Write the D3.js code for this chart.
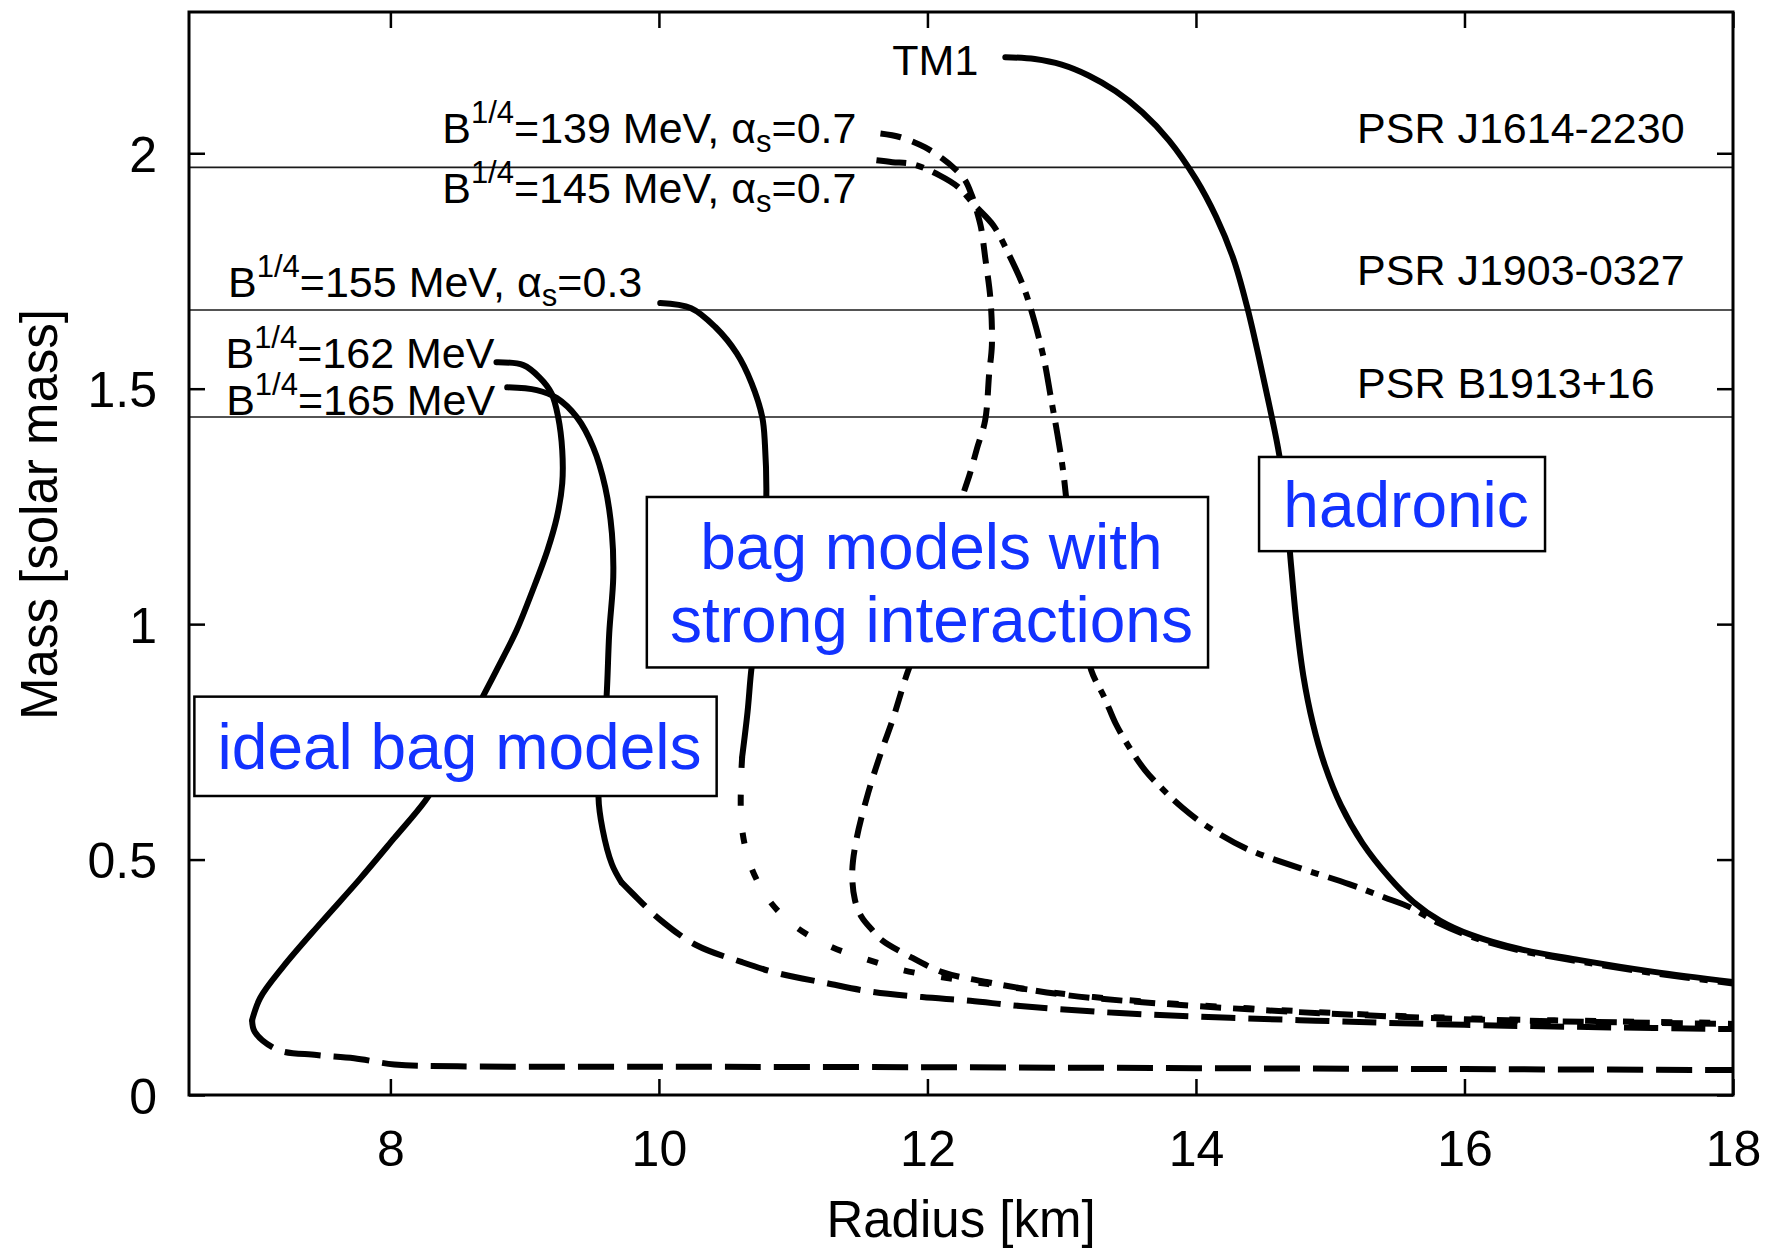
<!DOCTYPE html>
<html>
<head>
<meta charset="utf-8">
<script src="https://cdn.jsdelivr.net/npm/d3@7"></script>
<style>
  html, body { margin: 0; padding: 0; background: #ffffff; }
  svg { display: block; }
  text { font-family: "Liberation Sans", Arial, Helvetica, sans-serif; }
</style>
</head>
<body>
<svg id="chart" width="1771" height="1252"></svg>
<script>
// ---------- data: mass–radius relations [radius km, mass solar] ----------
const xTicks = [8, 10, 12, 14, 16, 18];
const yTicks = [0, 0.5, 1, 1.5, 2];

// hadronic TM1
const tm1 = [[12.58,2.204],[12.80,2.200],[13.00,2.188],[13.20,2.165],[13.40,2.132],[13.60,2.087],
  [13.80,2.027],[14.00,1.945],[14.15,1.865],[14.28,1.775],[14.38,1.675],[14.47,1.565],[14.55,1.460],
  [14.62,1.360],[14.67,1.250],[14.71,1.120],[14.75,1.000],[14.80,0.890],[14.87,0.790],[14.96,0.700],
  [15.08,0.615],[15.24,0.535],[15.44,0.462],[15.62,0.410],[15.82,0.370],[16.05,0.340],[16.41,0.310],
  [16.85,0.287],[17.40,0.262],[18.0,0.240]];

// B^1/4 = 139 MeV, alpha_s = 0.7 (dashed)
const bag139 = [[11.65,2.042],[11.80,2.034],[11.98,2.013],[12.11,1.989],[12.20,1.968],[12.28,1.943],
  [12.33,1.911],[12.37,1.875],[12.40,1.841],[12.43,1.779],[12.47,1.688],[12.48,1.592],[12.46,1.533],
  [12.43,1.433],[12.37,1.374],[12.32,1.323],[12.26,1.270],[12.10,1.100],[11.95,0.970],[11.85,0.896],
  [11.74,0.796],[11.66,0.732],[11.56,0.643],[11.47,0.541],[11.44,0.473],[11.46,0.414],[11.51,0.378],
  [11.59,0.350],[11.66,0.329],[11.85,0.297],[12.11,0.261],[12.44,0.240],[12.69,0.227],[13.04,0.212],
  [13.60,0.197],[14.77,0.176],[16.0,0.161],[17.0,0.155],[18.0,0.151]];

// B^1/4 = 145 MeV, alpha_s = 0.7 (dash-dot)
const bag145 = [[11.62,1.985],[11.74,1.981],[11.89,1.977],[12.09,1.953],[12.23,1.928],[12.35,1.890],
  [12.49,1.847],[12.61,1.783],[12.72,1.713],[12.80,1.640],[12.87,1.560],[12.92,1.480],[12.97,1.400],
  [13.01,1.327],[13.04,1.250],[13.10,1.100],[13.16,0.990],[13.22,0.902],[13.32,0.843],[13.40,0.790],
  [13.50,0.740],[13.62,0.690],[13.75,0.650],[13.90,0.610],[14.07,0.573],[14.37,0.524],[14.73,0.486],
  [15.14,0.448],[15.40,0.420],[15.60,0.398],[15.80,0.366],[16.05,0.336],[16.41,0.307],[16.85,0.284],
  [17.40,0.259],[18.0,0.237]];

// B^1/4 = 155 MeV, alpha_s = 0.3 (solid branch, dotted branch)
const bag155Solid = [[10.01,1.682],[10.24,1.671],[10.42,1.631],[10.58,1.575],[10.69,1.512],[10.77,1.439],
  [10.79,1.380],[10.80,1.272],[10.77,1.100],[10.72,0.960],[10.69,0.907],[10.66,0.813],[10.62,0.718]];
const bag155Dotted = [[10.62,0.718],[10.61,0.652],[10.62,0.563],[10.69,0.482],[10.83,0.410],[11.03,0.355],
  [11.29,0.314],[11.56,0.287],[11.82,0.265],[12.11,0.250],[12.44,0.236],[13.04,0.214],[13.60,0.199],
  [14.77,0.178],[16.0,0.163],[17.0,0.157],[18.0,0.153]];

// ideal bag B^1/4 = 162 MeV (solid branch, dashed branch)
const bag162Solid = [[8.79,1.556],[8.99,1.550],[9.11,1.524],[9.20,1.490],[9.25,1.439],[9.28,1.369],
  [9.28,1.299],[9.24,1.227],[9.17,1.157],[9.06,1.072],[8.94,0.987],[8.79,0.902],[8.66,0.830],
  [8.47,0.718],[8.26,0.625],[8.03,0.546],[7.77,0.458],[7.48,0.365],[7.20,0.272],[7.03,0.206],[6.97,0.159]];
const bag162Dashed = [[6.97,0.159],[6.99,0.134],[7.16,0.096],[7.45,0.085],[7.73,0.078],[8.03,0.065],
  [8.5,0.061],[10.0,0.060],[12.0,0.059],[14.0,0.057],[16.0,0.055],[18.0,0.053]];

// ideal bag B^1/4 = 165 MeV (solid branch, dashed branch)
const bag165Solid = [[8.87,1.503],[9.09,1.497],[9.24,1.480],[9.39,1.439],[9.51,1.376],[9.60,1.291],
  [9.65,1.193],[9.66,1.100],[9.63,0.981],[9.61,0.845],[9.57,0.700],[9.55,0.633],[9.58,0.565],
  [9.65,0.490],[9.72,0.452]];
const bag165Dashed = [[9.72,0.452],[9.80,0.429],[10.01,0.372],[10.28,0.318],[10.62,0.282],[10.88,0.259],
  [11.24,0.238],[11.59,0.219],[11.96,0.208],[12.32,0.200],[12.69,0.189],[13.43,0.174],[14.77,0.159],
  [16.0,0.149],[17.0,0.144],[18.0,0.140]];

// measured pulsar masses
const psrNames = ["PSR J1614-2230", "PSR J1903-0327", "PSR B1913+16"];
const psrMasses = [1.97, 1.667, 1.4398];

// ---------- layout ----------
const svg = d3.select("#chart");
const W = 1771, H = 1252;
const margin = { left: 189, right: 38, top: 12, bottom: 157 };

const x = d3.scaleLinear().domain([6.5, 18]).range([margin.left, W - margin.right]);
const y = d3.scaleLinear().domain([0, 2.3]).range([H - margin.bottom, margin.top]);

svg.append("rect").attr("width", W).attr("height", H).attr("fill", "#fff");

svg.append("defs").append("clipPath").attr("id", "plotClip")
  .append("rect")
  .attr("x", x(6.5)).attr("y", y(2.3))
  .attr("width", x(18) - x(6.5)).attr("height", y(0) - y(2.3));

const plot = svg.append("g").attr("clip-path", "url(#plotClip)");

// pulsar reference lines
plot.selectAll("line.psr").data(psrMasses).join("line")
  .attr("class", "psr")
  .attr("x1", x(6.5)).attr("x2", x(18))
  .attr("y1", d => y(d)).attr("y2", d => y(d))
  .attr("stroke", "#1a1a1a").attr("stroke-width", 1.6);

const line = d3.line()
  .x(d => x(d[0])).y(d => y(d[1]))
  .curve(d3.curveCatmullRom.alpha(0.5));

const curves = [
  { data: bag165Dashed, dash: "34,13" },
  { data: bag162Dashed, dash: "36,13" },
  { data: bag155Dotted, dash: "11,27" },
  { data: bag139, dash: "21,12" },
  { data: bag145, dash: "30,10,8,10" },
  { data: tm1, dash: null },
  { data: bag155Solid, dash: null },
  { data: bag162Solid, dash: null },
  { data: bag165Solid, dash: null }
];

plot.selectAll("path.curve").data(curves).join("path")
  .attr("class", "curve")
  .attr("d", d => line(d.data))
  .attr("fill", "none")
  .attr("stroke", "#000")
  .attr("stroke-width", 6)
  .attr("stroke-linejoin", "round")
  .attr("stroke-linecap", d => d.dash ? "butt" : "round")
  .attr("stroke-dasharray", d => d.dash);

// ---------- axes ----------
const tickFont = 50;
const gx = svg.append("g").attr("transform", `translate(0,${y(0)})`)
  .call(d3.axisBottom(x).tickValues(xTicks).tickSize(-16).tickPadding(35).tickFormat(d3.format("d")));
const gy = svg.append("g").attr("transform", `translate(${x(6.5)},0)`)
  .call(d3.axisLeft(y).tickValues(yTicks).tickSize(-16).tickPadding(32).tickFormat(d => d3.format("")(d)));
const gxt = svg.append("g").attr("transform", `translate(0,${y(2.3)})`)
  .call(d3.axisTop(x).tickValues(xTicks).tickSize(-16).tickFormat(""));
const gyr = svg.append("g").attr("transform", `translate(${x(18)},0)`)
  .call(d3.axisRight(y).tickValues(yTicks).tickSize(-16).tickFormat(""));

[gx, gy, gxt, gyr].forEach(g => {
  g.select(".domain").remove();
  g.selectAll(".tick line").attr("stroke", "#000").attr("stroke-width", 2.5);
  g.selectAll(".tick text").attr("fill", "#000").attr("font-size", tickFont)
    .attr("font-family", "'Liberation Sans', Arial, Helvetica, sans-serif");
});
gy.selectAll(".tick text").attr("dy", "0.36em");

// frame
svg.append("rect")
  .attr("x", x(6.5)).attr("y", y(2.3))
  .attr("width", x(18) - x(6.5)).attr("height", y(0) - y(2.3))
  .attr("fill", "none").attr("stroke", "#000").attr("stroke-width", 3);

// axis titles
svg.append("text")
  .attr("x", (x(6.5) + x(18)) / 2).attr("y", H - 15)
  .attr("text-anchor", "middle").attr("font-size", 51)
  .text("Radius [km]");
svg.append("text")
  .attr("transform", `translate(57,${(y(0) + y(2.3)) / 2 - 39}) rotate(-90)`)
  .attr("text-anchor", "middle").attr("font-size", 51)
  .text("Mass [solar mass]");

// ---------- annotations ----------
const labelFont = 43;
const ann = svg.append("g").attr("font-size", labelFont).attr("fill", "#000");

// pulsar names
const psrOffsets = [-24, -25, -19];
psrNames.forEach((name, i) => {
  ann.append("text")
    .attr("x", x(15.2)).attr("y", y(psrMasses[i]) + psrOffsets[i])
    .text(name);
});

// TM1 label at the start of its curve
ann.append("text")
  .attr("x", x(tm1[0][0]) - 27).attr("y", y(tm1[0][1]) + 18)
  .attr("text-anchor", "end")
  .text("TM1");

// bag model labels: B^{1/4}=... MeV[, alpha_s=...]
function bagLabel(px, py, mev, alpha) {
  const t = ann.append("text").attr("x", px).attr("y", py).attr("text-anchor", "end");
  t.append("tspan").text("B");
  t.append("tspan").attr("font-size", 31).attr("dy", -20).text("1/4");
  t.append("tspan").attr("dy", 20).text(`=${mev} MeV` + (alpha != null ? ", α" : ""));
  if (alpha != null) {
    t.append("tspan").attr("font-size", 31).attr("dy", 9).text("s");
    t.append("tspan").attr("dy", -9).text(`=${alpha}`);
  }
}
bagLabel(x(bag139[0][0]) - 24, y(bag139[0][1]) + 10, 139, "0.7");
bagLabel(x(bag145[0][0]) - 20, y(bag145[0][1]) + 43, 145, "0.7");
bagLabel(x(bag155Solid[0][0]) - 18, y(bag155Solid[0][1]) - 6, 155, "0.3");
bagLabel(x(bag162Solid[0][0]) - 2, y(bag162Solid[0][1]) + 6, 162, null);
bagLabel(x(bag165Solid[0][0]) - 12, y(bag165Solid[0][1]) + 28, 165, null);

// boxed category labels (radius span, mass span, lines)
const boxes = [
  { r: [14.47, 16.60], m: [1.355, 1.155], lines: ["hadronic"] },
  { r: [9.91, 14.09], m: [1.270, 0.908], lines: ["bag models with", "strong interactions"] },
  { r: [6.54, 10.43], m: [0.846, 0.635], lines: ["ideal bag models"] }
];
const boxFont = 64;
boxes.forEach(b => {
  const x0 = x(b.r[0]), x1 = x(b.r[1]), y0 = y(b.m[0]), y1 = y(b.m[1]);
  svg.append("rect")
    .attr("x", x0).attr("y", y0).attr("width", x1 - x0).attr("height", y1 - y0)
    .attr("fill", "#fff").attr("stroke", "#000").attr("stroke-width", 2.5);
  const cx = (x0 + x1) / 2 + 4, cy = (y0 + y1) / 2;
  const lh = 73;
  b.lines.forEach((s, i) => {
    svg.append("text")
      .attr("x", cx)
      .attr("y", cy + (i - (b.lines.length - 1) / 2) * lh + 23)
      .attr("text-anchor", "middle")
      .attr("font-size", boxFont)
      .attr("fill", "#1232ff")
      .text(s);
  });
});
</script>
</body>
</html>
